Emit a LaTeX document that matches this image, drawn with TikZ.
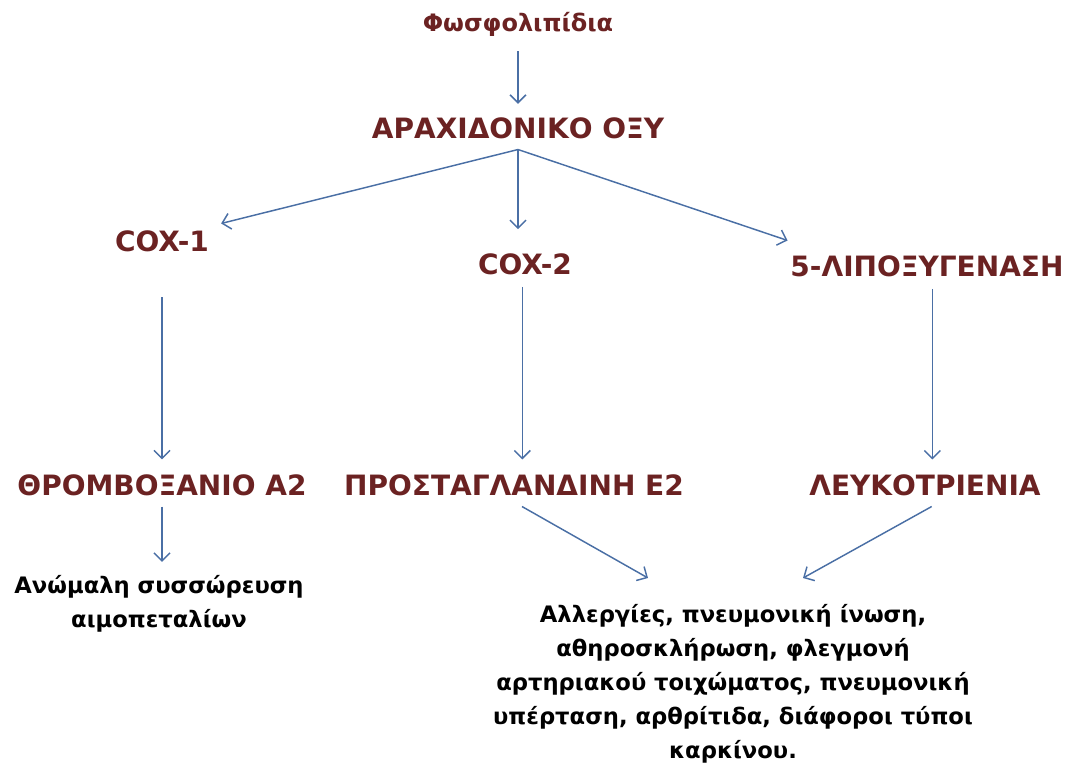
\documentclass[tikz,border=0pt]{standalone}
\usepackage{fontspec}
\setmainfont{DejaVu Sans}
\usetikzlibrary{arrows.meta}
\definecolor{termred}{HTML}{6B2222}
\definecolor{linkblue}{HTML}{4A6FA5}

\begin{document}
\begin{tikzpicture}[x=0.75pt,y=-0.75pt,>={Straight Barb[length=6pt,width=12pt]},
  term/.style={text=termred,font=\bfseries\fontsize{21}{25}\selectfont,inner sep=0pt},
  effect/.style={font=\bfseries\fontsize{17}{25.5}\selectfont,align=center,inner sep=0pt},
  link/.style={->,linkblue,line width=1.1pt}]
\useasboundingbox (0,0) rectangle (1075,771);
% Lipid precursor and the three enzyme routes.
\node[term,font=\bfseries\fontsize{18}{22}\selectfont] (phos) at (518,24) {Φωσφολιπίδια};
\node[term] (arach) at (518,128) {ΑΡΑΧΙΔΟΝΙΚΟ ΟΞΥ};
\node[term] (cox1) at (162,241) {COX-1};
\node[term] (cox2) at (525,264) {COX-2};
\node[term] (lipo) at (927,266) {5-ΛΙΠΟΞΥΓΕΝΑΣΗ};
% Products of each route.
\node[term] (throm) at (162,485) {ΘΡΟΜΒΟΞΑΝΙΟ Α2};
\node[term] (prost) at (514,485) {ΠΡΟΣΤΑΓΛΑΝΔΙΝΗ Ε2};
\node[term] (leuk) at (925,485) {ΛΕΥΚΟΤΡΙΕΝΙΑ};
% Effects.
\node[effect] (plat) at (159,604) {Ανώμαλη συσσώρευση\\αιμοπεταλίων};
\node[effect] (dis) at (733,684) {Αλλεργίες, πνευμονική ίνωση,\\αθηροσκλήρωση, φλεγμονή\\αρτηριακού τοιχώματος, πνευμονική\\υπέρταση, αρθρίτιδα, διάφοροι τύποι\\καρκίνου.};
\coordinate (split) at ([yshift=-8pt]arach.south);
\coordinate (e2in) at (648,578);
\coordinate (ltin) at (803,578);
\draw[link,shorten <=11pt,shorten >=10pt] (phos.south) -- (arach.north);
\draw[link] (split) -- ([xshift=9pt,yshift=5pt]cox1.north east);
\draw[link,shorten >=18pt] (split) -- (split |- cox2.north);
\draw[link] (split) -- ([xshift=-2pt,yshift=11pt]lipo.north west);
\draw[link,shorten <=34pt,shorten >=11pt] (cox1.south) -- (throm.north);
\draw[link,shorten <=9pt,shorten >=11pt] ([xshift=-2pt]cox2.south) -- ([xshift=-2pt]cox2.south |- prost.north);
\draw[link,shorten <=9pt,shorten >=11pt] ([xshift=4pt]lipo.south) -- ([xshift=4pt]lipo.south |- leuk.north);
\draw[link,shorten <=8pt,shorten >=10pt] (throm.south) -- (throm.south |- plat.north);
\draw[link] ([xshift=6pt,yshift=-8pt]prost.south) -- (e2in);
\draw[link] ([xshift=5pt,yshift=-8pt]leuk.south) -- (ltin);
\end{tikzpicture}
\end{document}
